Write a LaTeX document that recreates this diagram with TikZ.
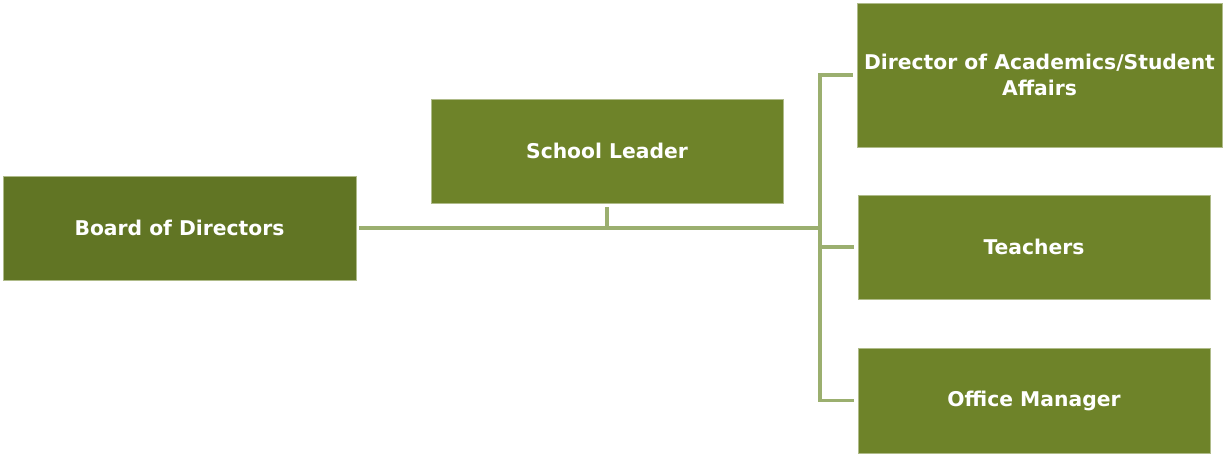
\documentclass[tikz,border=0pt]{standalone}
\usepackage{fontspec}
\setmainfont{DejaVu Sans}
\definecolor{boardgreen}{HTML}{617524}
\definecolor{boxgreen}{HTML}{6E8329}
\definecolor{linegreen}{HTML}{9BAF6F}
\tikzset{
  orgbox/.style={fill=boxgreen,draw=boxgreen!55!white,line width=0.6pt,text=white,align=center,inner sep=0pt,
    font=\fontsize{20.3}{26}\selectfont\bfseries,minimum height=104pt,minimum width=352pt},
  orgline/.style={draw=linegreen,line width=3.5pt}
}
\begin{document}
\begin{tikzpicture}[x=1pt,y=-1pt]
  \useasboundingbox (0,0) rectangle (1225,454);
  \node[orgbox,fill=boardgreen,minimum width=353pt] (board) at (179.5,228) {Board of Directors};
  \node[orgbox] (leader) at (607,151) {School Leader};
  \node[orgbox,minimum width=365pt,minimum height=144pt] (dir) at (1039.5,75) {Director of Academics/Student\\Affairs};
  \node[orgbox] (teach) at (1034,247) {Teachers};
  \node[orgbox,minimum height=105pt] (office) at (1034,400.5) {Office Manager};
  \coordinate (bus) at (820,228);
  \draw[orgline,shorten <=3pt] (board.east) -- (bus);
  \draw[orgline,shorten <=4pt] (leader.south) -- (leader.south |- bus);
  \draw[orgline,line cap=rect] (bus |- dir.west) -- (bus |- office.west);
  \draw[orgline,shorten >=4pt] (bus |- dir.west) -- (dir.west);
  \draw[orgline,shorten >=4pt] (bus |- teach.west) -- (teach.west);
  \draw[orgline,shorten >=4pt] (bus |- office.west) -- (office.west);
\end{tikzpicture}
\end{document}
